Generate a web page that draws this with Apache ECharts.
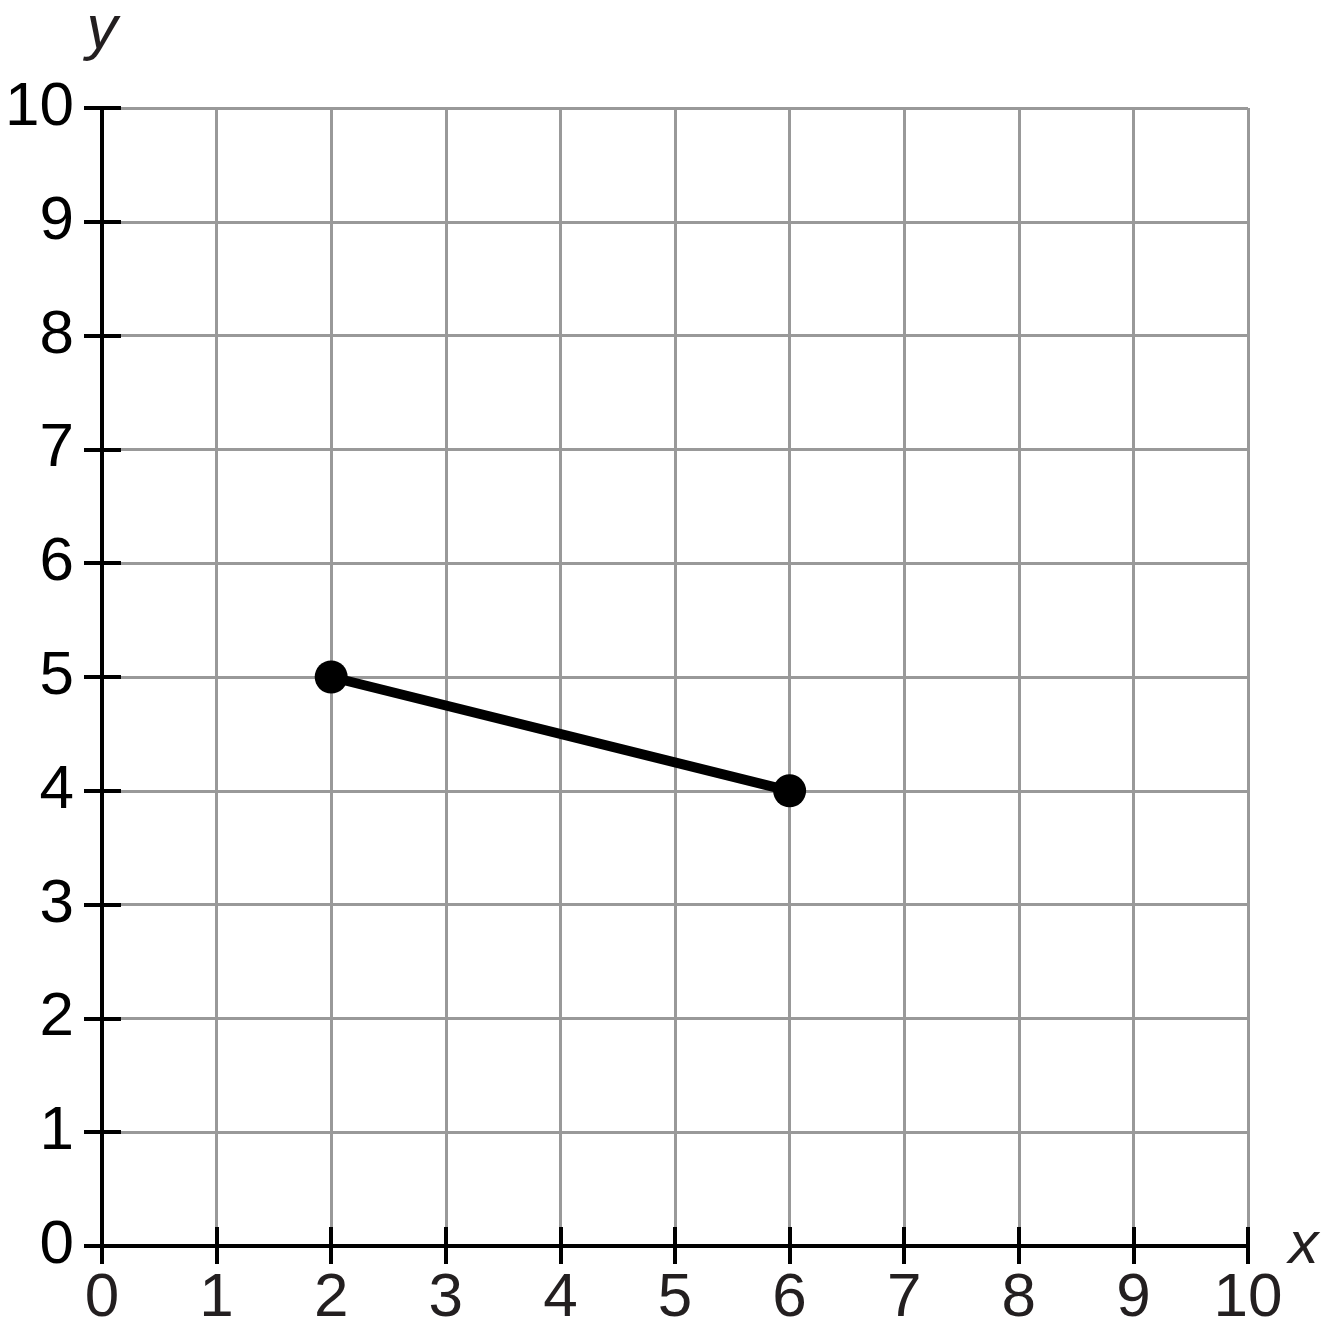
<!DOCTYPE html>
<html>
<head>
<meta charset="utf-8">
<script src="https://cdn.jsdelivr.net/npm/echarts@6/dist/echarts.min.js"></script>
<style>
html,body{margin:0;padding:0;background:#fff;}
#chart{width:1323px;height:1338px;}
</style>
</head>
<body>
<div id="chart"></div>
<script>
const xTicks = [0,1,2,3,4,5,6,7,8,9,10];
const yTicks = [0,1,2,3,4,5,6,7,8,9,10];
const segmentX = [2, 6];
const segmentY = [5, 4];

const chart = echarts.init(document.getElementById('chart'), null, {renderer: 'canvas'});
const font = 'Liberation Sans, Arial, Helvetica, sans-serif';
const common = {
  type: 'value', min: 0, max: 10, interval: 1
};
chart.setOption({
  animation: false,
  backgroundColor: '#ffffff',
  grid: {left: 102, right: 75, top: 107, bottom: 92, containLabel: false},
  xAxis: [
    Object.assign({}, common, {
      position: 'bottom',
      name: 'x',
      nameLocation: 'end',
      nameGap: 22,
      nameTextStyle: {fontSize: 60, fontStyle: 'italic', color: '#231f20', fontFamily: font, verticalAlign: 'middle', padding: [0,0,4,0]},
      axisLine: {show: true, onZero: false, lineStyle: {color: '#000', width: 4}},
      axisTick: {show: true, inside: false, length: 18, lineStyle: {color: '#000', width: 4}},
      axisLabel: {show: true, fontSize: 62, color: '#231f20', fontFamily: font, margin: 22,
        formatter: v => xTicks.indexOf(v) >= 0 ? String(v) : ''},
      splitLine: {show: true, lineStyle: {color: '#999999', width: 3}}
    }),
    Object.assign({}, common, {
      position: 'bottom',
      axisLine: {show: false, onZero: false},
      axisTick: {show: true, inside: true, length: 19, lineStyle: {color: '#000', width: 4}},
      axisLabel: {show: false},
      splitLine: {show: false}
    })
  ],
  yAxis: [
    Object.assign({}, common, {
      position: 'left',
      name: 'y',
      nameLocation: 'end',
      nameGap: 46,
      nameTextStyle: {fontSize: 62, fontStyle: 'italic', color: '#231f20', fontFamily: font, align: 'center'},
      axisLine: {show: true, onZero: false, lineStyle: {color: '#000', width: 4}},
      axisTick: {show: true, inside: false, length: 18, lineStyle: {color: '#000', width: 4}},
      axisLabel: {show: true, fontSize: 62, color: '#000', fontFamily: font, margin: 28,
        formatter: v => yTicks.indexOf(v) >= 0 ? String(v) : ''},
      splitLine: {show: true, lineStyle: {color: '#999999', width: 3}}
    }),
    Object.assign({}, common, {
      position: 'left',
      axisLine: {show: false, onZero: false},
      axisTick: {show: true, inside: true, length: 19, lineStyle: {color: '#000', width: 4}},
      axisLabel: {show: false},
      splitLine: {show: false}
    })
  ],
  series: [{
    type: 'line',
    xAxisIndex: 0,
    yAxisIndex: 0,
    data: segmentX.map((x, i) => [x, segmentY[i]]),
    lineStyle: {color: '#000', width: 10},
    symbol: 'circle',
    symbolSize: 33,
    itemStyle: {color: '#000', borderWidth: 0},
    z: 10
  }]
});
</script>
</body>
</html>
